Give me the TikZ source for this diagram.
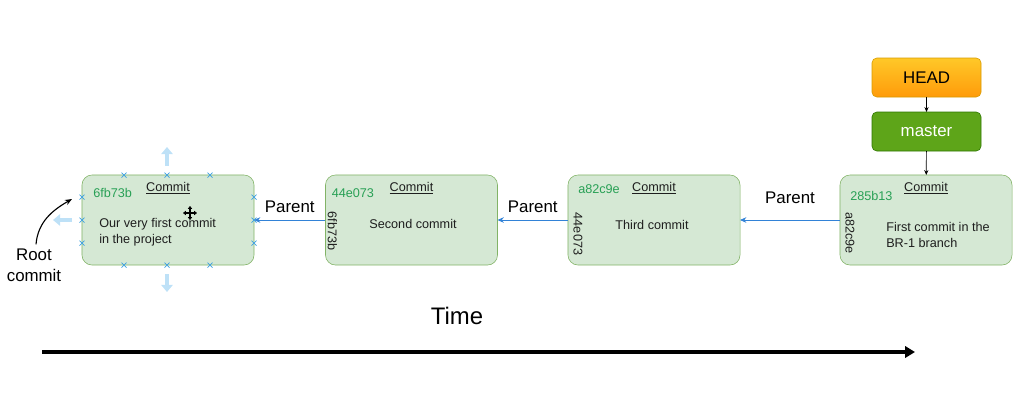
\documentclass[tikz,border=0pt]{standalone}
\usepackage{fontspec}
\setmainfont{Liberation Sans}
\usetikzlibrary{arrows.meta,calc,positioning}
\definecolor{commitfill}{RGB}{213,232,212}
\definecolor{commitdraw}{RGB}{130,179,102}
\definecolor{hashgreen}{RGB}{40,160,85}
\definecolor{parentblue}{RGB}{50,130,215}
\definecolor{headtop}{RGB}{255,200,40}
\definecolor{headbot}{RGB}{255,155,10}
\definecolor{headdraw}{RGB}{215,155,0}
\definecolor{masterfill}{RGB}{94,165,25}
\definecolor{masterdraw}{RGB}{45,118,0}
\definecolor{selblue}{RGB}{190,225,247}
\definecolor{handleblue}{RGB}{60,160,225}
\definecolor{bodytext}{RGB}{30,30,30}

\begin{document}
\begin{tikzpicture}[x=0.025cm, y=-0.025cm,
    commit box/.style={draw=commitdraw, fill=commitfill, rounded corners=0.25cm, minimum width=4.3cm, minimum height=2.25cm, outer sep=0pt},
    commit title/.style={font=\fontsize{9}{11}\selectfont, text=bodytext, inner sep=0pt},
    commit hash/.style={font=\fontsize{9}{11}\selectfont, text=hashgreen, inner sep=0pt, anchor=west},
    parent hash/.style={font=\fontsize{9}{11}\selectfont, text=bodytext, inner sep=0pt, rotate=-90},
    commit text/.style={font=\fontsize{9}{11.3}\selectfont, text=bodytext, inner sep=0pt, align=left},
    ref box/.style={rounded corners=0.12cm, minimum width=2.725cm, minimum height=0.975cm, font=\fontsize{12}{14}\selectfont, outer sep=0pt},
    ref link/.style={draw=black, ->, >={Stealth[length=3.5pt,width=3pt]}, line width=0.5pt},
    parent link/.style={draw=parentblue, ->, >={Stealth[length=4.5pt,width=4pt]}, line width=0.6pt},
    parent label/.style={font=\fontsize{12}{14}\selectfont, above=4pt, inner sep=1pt},
    time arrow/.style={draw=black, line width=2.2pt, -{Triangle[length=7pt,width=8pt]}},
    sel arrow/.style={draw=selblue, line width=3pt, -{Triangle[length=5pt,width=8pt]}},
    handle/.style={draw=handleblue, line width=0.5pt}
  ]
  \useasboundingbox (0,0) rectangle (1024,404);

  % commits
  \node [commit box] (c1) at (168,220) {};
  \node [commit box] (c2) at (411.5,220) {};
  \node [commit box] (c3) at (654,220) {};
  \node [commit box] (c4) at (926,220) {};

  \node [commit title] (c1t) at ($(c1.north)+(0,13)$) {\underline{Commit}};
  \node [commit title] (c2t) at ($(c2.north)+(0,13)$) {\underline{Commit}};
  \node [commit title] (c3t) at ($(c3.north)+(0,13)$) {\underline{Commit}};
  \node [commit title] (c4t) at ($(c4.north)+(0,13)$) {\underline{Commit}};

  \node [commit hash] (c1h) at ($(c1.north west)+(11,18)$) {6fb73b};
  \node [commit hash] (c2h) at ($(c2.north west)+(6,18)$) {44e073};
  \node [commit hash] (c3h) at ($(c3.north west)+(10,14)$) {a82c9e};
  \node [commit hash] (c4h) at ($(c4.north west)+(10,21)$) {285b13};

  \node [parent hash] (c2p) at ($(c2.west)+(7,11)$) {6fb73b};
  \node [parent hash] (c3p) at ($(c3.west)+(10,14)$) {44e073};
  \node [parent hash] (c4p) at ($(c4.west)+(10,13)$) {a82c9e};

  \node [commit text, anchor=west] (c1b) at (99,232) {Our very first commit\\in the project};
  \node [commit text] (c2b) at (413,224) {Second commit};
  \node [commit text] (c3b) at (652,225) {Third commit};
  \node [commit text, anchor=west] (c4b) at (886,235) {First commit in the\\BR-1 branch};

  % refs
  \node [ref box, draw=headdraw, top color=headtop, bottom color=headbot] (head) at (926.5,77.5) {HEAD};
  \node [ref box, draw=masterdraw, fill=masterfill, text=white] (master) at (926.5,131.5) {master};
  \path [ref link] (head) -- (master);
  \path [ref link] (master) -- (c4);

  % parents
  \path [parent link] (c2) -- node [parent label] {Parent} (c1);
  \path [parent link] (c3) -- node [parent label] {Parent} (c2);
  \path [parent link] (c4) -- node [parent label, above=10pt] {Parent} (c3);

  % root
  \node [font=\fontsize{12}{15}\selectfont, align=center, inner sep=0pt] (root) at (34,265) {Root\\commit};
  \coordinate (rootend) at (72,199);
  \draw [->, >={Stealth[length=5pt,width=4pt]}, line width=0.8pt] ($(root.north)+(2,-4)$) to [out=-90+180-5, in=210] (rootend);

  % time
  \node [font=\fontsize{17}{20}\selectfont, inner sep=0pt] (time) at (457,316) {Time};
  \coordinate (tstart) at (42,352);
  \coordinate (tend) at (915,352);
  \path [time arrow] (tstart) -- (tend);

  % selection handles
  \path [sel arrow] (167,166) -- (167,147);
  \path [sel arrow] (167,274) -- (167,292);
  \path [sel arrow] (72,220) -- (53,220);
  \foreach \hx/\hy in {124/175,167/175,210/175,124/265,167/265,210/265,82/197,82/220,82/243,254/197,254/220,254/243}
    \draw [handle] (\hx-2.5,\hy-2.5) -- (\hx+2.5,\hy+2.5) (\hx-2.5,\hy+2.5) -- (\hx+2.5,\hy-2.5);
  \draw [line width=0.8pt, {Triangle[length=2pt,width=3pt]}-{Triangle[length=2pt,width=3pt]}] (183,213) -- (197,213);
  \draw [line width=0.8pt, {Triangle[length=2pt,width=3pt]}-{Triangle[length=2pt,width=3pt]}] (190,206) -- (190,220);
\end{tikzpicture}
\end{document}
